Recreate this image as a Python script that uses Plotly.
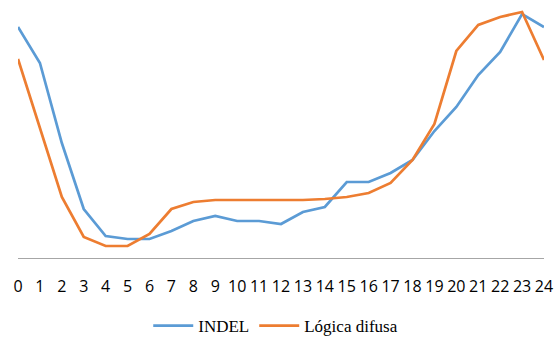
import plotly.graph_objects as go

hours = list(range(25))
tick_labels = [str(h) for h in hours]
indel = [231, 195, 115, 49, 22, 19, 19, 27, 37, 42, 37, 37, 34, 46, 51, 76, 76, 85, 98, 127, 151, 183, 206, 244, 231]
logica_difusa = [199, 130, 61, 21, 12, 12, 24, 49, 56, 58, 58, 58, 58, 58, 59, 61, 65, 75, 98, 134, 207, 233, 241, 246, 198]

fig = go.Figure()
fig.add_trace(go.Scatter(x=hours, y=indel, mode="lines", name="INDEL",
                         line=dict(color="#5B9BD5", width=2.7)))
fig.add_trace(go.Scatter(x=hours, y=logica_difusa, mode="lines", name="Lógica difusa",
                         line=dict(color="#ED7D31", width=2.7)))

fig.update_layout(
    width=554, height=340,
    margin=dict(l=18, r=10, t=8, b=82, autoexpand=False),
    paper_bgcolor="white", plot_bgcolor="white",
    showlegend=True,
    legend=dict(orientation="h", x=0.49, xanchor="center", y=-0.272, yanchor="middle",
                font=dict(family="Times New Roman", size=17, color="#000000"),
                itemwidth=40, tracegroupgap=0),
    xaxis=dict(range=[0, 24], tickvals=hours, ticktext=tick_labels, showgrid=False,
               zeroline=False, showline=True, linecolor="#A6A6A6", linewidth=1.3,
               ticks="", tickfont=dict(family="Open Sans", size=16, color="#000000"),
               ticklabelstandoff=14),
    yaxis=dict(range=[0, 250], visible=False, showgrid=False, zeroline=False),
)

fig.write_html("out.html")
